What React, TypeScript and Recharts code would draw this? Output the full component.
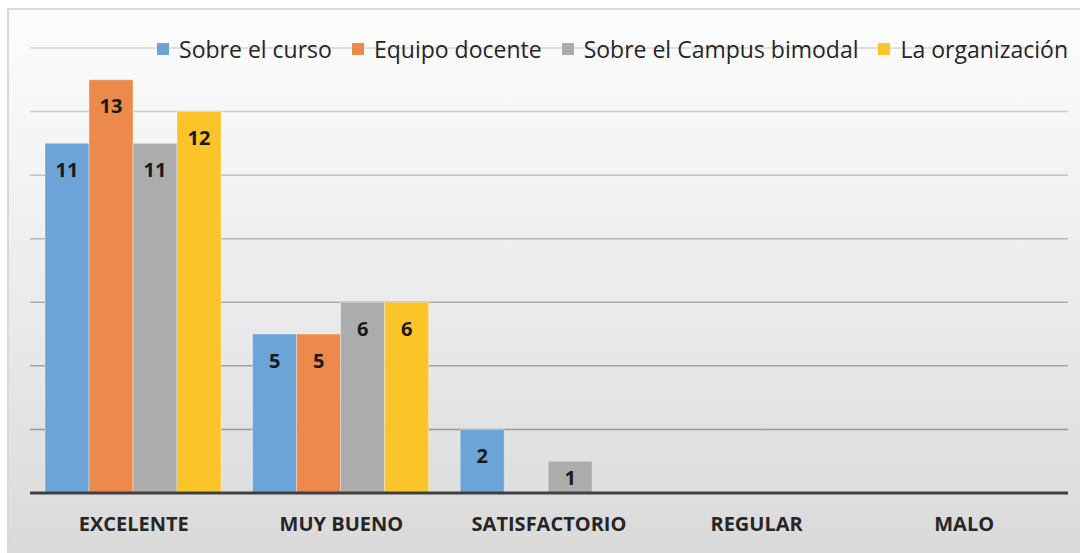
import React from 'react';
import { BarChart, Bar, XAxis, YAxis, CartesianGrid, Legend, LabelList } from 'recharts';

const categories = ['EXCELENTE', 'MUY BUENO', 'SATISFACTORIO', 'REGULAR', 'MALO'];
const sobreCurso = [11, 5, 2, 0, 0];
const equipoDocente = [13, 5, 0, 0, 0];
const sobreCampus = [11, 6, 1, 0, 0];
const organizacion = [12, 6, 0, 0, 0];
const yTicks = [0, 2, 4, 6, 8, 10, 12, 14];

const seriesNames = ['Sobre el curso', 'Equipo docente', 'Sobre el Campus bimodal', 'La organización'];
const seriesKeys = ['s1', 's2', 's3', 's4'];
const colors = ['#6ca4d8', '#eb8a4b', '#acacac', '#fbc52a'];

const data = categories.map((c, i) => ({
  name: c,
  s1: sobreCurso[i],
  s2: equipoDocente[i],
  s3: sobreCampus[i],
  s4: organizacion[i],
}));

const FONT = '"Open Sans", sans-serif';

const LegendContent = () => (
  <div style={{ display: 'flex', justifyContent: 'flex-end', alignItems: 'center', fontFamily: FONT, fontSize: 23, color: '#262626', whiteSpace: 'nowrap', height: 30 }}>
    {seriesNames.map((n, i) => (
      <div key={n} style={{ display: 'flex', alignItems: 'center', marginLeft: i === 0 ? 0 : 20 }}>
        <span style={{ display: 'inline-block', width: 12, height: 12, background: colors[i], marginRight: 10 }} />
        <span>{n}</span>
      </div>
    ))}
  </div>
);

const BarLabel = (props: any) => {
  const { x, y, width, height, value } = props;
  if (!value) return null;
  const cy = Math.min(y + 26, y + height / 2);
  return (
    <text x={x + width / 2} y={cy} textAnchor="middle" dominantBaseline="central" fill="#1a1a1a" fontFamily={FONT} fontSize={20} fontWeight={700}>
      {value}
    </text>
  );
};

export default function App() {
  return (
    <div style={{ position: 'absolute', left: 0, top: 0, width: 1080, height: 553, overflow: 'hidden', background: '#fff' }}>
      <div style={{ position: 'absolute', left: 7, top: 8, width: 1090, height: 560, boxSizing: 'border-box', border: '2px solid #d9d9d9', background: 'linear-gradient(to bottom, #fdfdfd 0%, #ececec 50%, #d9d9d9 100%)' }} />
      <div style={{ position: 'absolute', left: 0, top: 0 }}>
        <BarChart width={1080} height={553} data={data} margin={{ top: 48, right: 12, bottom: 30, left: 30 }} barGap={0} barCategoryGap={15}>
          <defs>
            <linearGradient id="gridGrad" gradientUnits="userSpaceOnUse" x1="0" y1="48" x2="0" y2="493">
              <stop offset="0%" stopColor="#d6d6d6" />
              <stop offset="100%" stopColor="#8e8e8e" />
            </linearGradient>
          </defs>
          <CartesianGrid vertical={false} stroke="url(#gridGrad)" strokeWidth={1.5} />
          <YAxis hide domain={[0, 14]} ticks={yTicks} />
          <XAxis
            dataKey="name"
            height={30}
            axisLine={{ stroke: '#404040', strokeWidth: 3 }}
            tickLine={false}
            tickMargin={18}
            tick={{ fill: '#262626', fontFamily: FONT, fontSize: 20, fontWeight: 700 }}
          />
          <Legend verticalAlign="middle" align="center" layout="horizontal" content={LegendContent} wrapperStyle={{ top: 34, right: 12, left: 'auto', width: 1060, height: 30 }} />
          {seriesKeys.map((k, i) => (
            <Bar key={k} dataKey={k} name={seriesNames[i]} fill={colors[i]} stroke="rgba(255,255,255,0.35)" strokeWidth={1} isAnimationActive={false}>
              <LabelList dataKey={k} content={BarLabel} />
            </Bar>
          ))}
        </BarChart>
      </div>
    </div>
  );
}
